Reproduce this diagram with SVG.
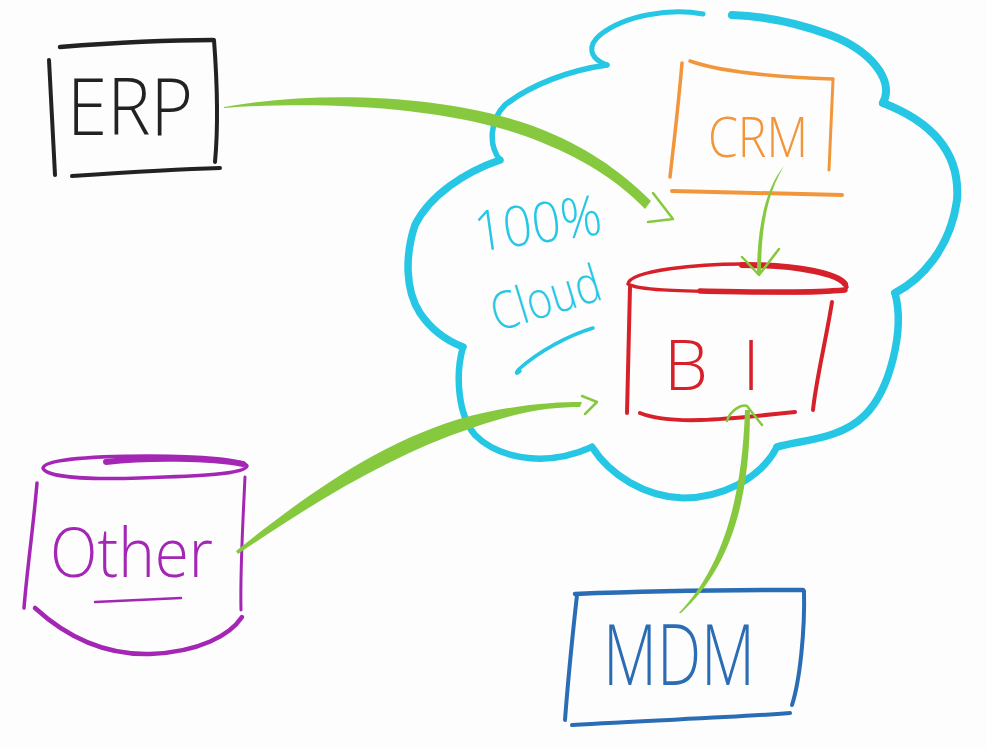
<svg xmlns="http://www.w3.org/2000/svg" width="987" height="747" viewBox="0 0 987 747">
<style>
.s{fill:none;stroke-linecap:round;stroke-linejoin:round}
.blk{stroke:#222222}
.org{stroke:#f1963b}
.red{stroke:#d7212a}
.pur{stroke:#a426b4}
.blu{stroke:#2b6db4}
.cya{stroke:#25c7e4}
.grn{stroke:#86c93e}
.gf{fill:#86c93e}
.t{font-family:"Open Sans","Lato","DejaVu Sans",sans-serif;font-weight:300}
</style>
<rect width="987" height="747" fill="#fdfdfd"/>

<g id="cloud">
<path class="s cya" stroke-width="5" d="M703,14 C670,8 625,15 600,35 C588,45 588,58 607,65"/>
<path class="s cya" stroke-width="5.5" d="M607,65 C570,70 530,85 505,105 C490,120 488,145 500,160"/>
<path class="s cya" stroke-width="7.5" d="M500,160 C465,172 430,195 415,225 C405,255 405,290 420,313 C430,328 445,340 463,347"/>
<path class="s cya" stroke-width="6.5" d="M463,347 C455,375 458,415 475,435 C495,455 540,470 592,447"/>
<path class="s cya" stroke-width="7" d="M592,447 C610,475 645,497 683,498 C720,498 760,480 777,447"/>
<path class="s cya" stroke-width="7.5" d="M777,447 C800,440 840,440 865,415 C890,390 905,330 895,293"/>
<path class="s cya" stroke-width="8" d="M895,293 C920,280 950,250 957,200 C960,160 940,125 883,103"/>
<path class="s cya" stroke-width="8" d="M883,103 C895,80 870,50 830,35 C795,22 760,16 732,15"/>
<text class="t" fill="#25c7e4" font-size="56" x="538" y="243" text-anchor="middle" textLength="128" lengthAdjust="spacingAndGlyphs" transform="rotate(-8 538 225)">100%</text>
<text class="t" fill="#25c7e4" font-size="52" x="546" y="316" text-anchor="middle" textLength="112" lengthAdjust="spacingAndGlyphs" transform="rotate(-17 546 300)">Cloud</text>
<path class="s cya" stroke-width="3.5" d="M593,328 C570,335 540,350 518,370 C515,374 517,374 520,371"/>
</g>

<g id="erp">
<path class="s blk" stroke-width="4.5" d="M60,47 C110,43 170,40 213,40"/>
<path class="s blk" stroke-width="4" d="M49,60 L55,175"/>
<path class="s blk" stroke-width="4" d="M214,40 C217,80 218,130 215,162"/>
<path class="s blk" stroke-width="4" d="M72,176 C130,172 180,169 220,168"/>
<text class="t" fill="#222222" font-size="80" x="67" y="135" textLength="126" lengthAdjust="spacingAndGlyphs">ERP</text>
</g>

<g id="crm">
<path class="s org" stroke-width="3.5" d="M690,61 C720,72 780,77 833,79"/>
<path class="s org" stroke-width="3" d="M833,80 L829,170"/>
<path class="s org" stroke-width="3.5" d="M682,63 C678,110 673,150 670,177"/>
<path class="s org" stroke-width="4" d="M672,191 L842,195"/>
<text class="t" fill="#f1963b" font-size="56" x="708" y="157" textLength="100" lengthAdjust="spacingAndGlyphs">CRM</text>
</g>

<g id="bi">
<path class="s red" stroke-width="3.5" d="M628,284 C630,270 700,264 742,264 C800,264 845,275 847,287 C845,294 800,293 740,292 C690,291 640,291 628,284 Z"/>
<path class="s red" stroke-width="6" d="M742,265 C800,265 838,274 845,284"/>
<path class="s red" stroke-width="5.5" d="M700,291 C760,292 810,293 845,290"/>
<path class="s red" stroke-width="4" d="M630,287 L627,413"/>
<path class="s red" stroke-width="4" d="M832,302 C826,340 816,380 813,410"/>
<path class="s red" stroke-width="4" d="M640,413 C670,425 720,420 795,412"/>
<text class="t" fill="#d7212a" font-size="70" x="664" y="390" textLength="96" lengthAdjust="spacing">BI</text>
</g>

<g id="other">
<path class="s pur" stroke-width="3.5" d="M43,468 C45,458 110,456 150,456 C200,456 247,460 247,466 C245,474 200,476 140,478 C80,480 45,476 43,468 Z"/>
<path class="s pur" stroke-width="6" d="M106,462 C150,457 210,458 243,464"/>
<path class="s pur" stroke-width="3.5" d="M37,483 C33,530 27,570 24,608"/>
<path class="s pur" stroke-width="3" d="M245,477 C243,520 240,570 241,610"/>
<path class="s pur" stroke-width="4.5" d="M35,608 C70,640 110,655 150,654 C200,652 230,635 242,617"/>
<text class="t" fill="#a426b4" font-size="68" x="50" y="577" textLength="163" lengthAdjust="spacingAndGlyphs">Other</text>
<path class="s pur" stroke-width="2.5" d="M95,602 L181,598"/>
</g>

<g id="mdm">
<path class="s blu" stroke-width="4.5" d="M575,594 C650,591 740,590 803,590"/>
<path class="s blu" stroke-width="4" d="M577,595 C572,640 568,680 565,720"/>
<path class="s blu" stroke-width="4" d="M804,591 C805,630 800,680 792,705"/>
<path class="s blu" stroke-width="4" d="M572,725 C650,720 730,718 790,713"/>
<text class="t" fill="#2b6db4" font-size="84" x="603" y="685" textLength="152" lengthAdjust="spacingAndGlyphs">MDM</text>
</g>

<g id="connectors">
<path class="gf" d="M224,107 C330,88 470,96 555,135 C600,155 630,180 651,201 L645,209 C625,188 595,165 550,146 C468,108 330,100 224,108 Z"/>
<path class="s grn" stroke-width="2.5" d="M653,193 L673,219 L648,222"/>
<path class="gf" d="M236,551 C300,500 380,440 470,416 C520,404 555,402 582,402 L580,407 C555,407 522,410 472,428 C390,455 310,505 238,554 Z"/>
<path class="s grn" stroke-width="2.5" d="M582,396 L597,402 L585,414"/>
<path class="gf" d="M784,166 C766,188 757,225 757,274 L761,274 C761,226 768,192 784,166 Z"/>
<path class="s grn" stroke-width="2.5" d="M742,257 L759,275 L779,249"/>
<path class="gf" d="M679,613 C722,568 742,500 745,410 L750,410 C750,502 730,568 681,613 Z"/>
<path class="s grn" stroke-width="2.5" d="M727,421 C730,410 742,404 747,406 L762,425"/>
</g>
</svg>
